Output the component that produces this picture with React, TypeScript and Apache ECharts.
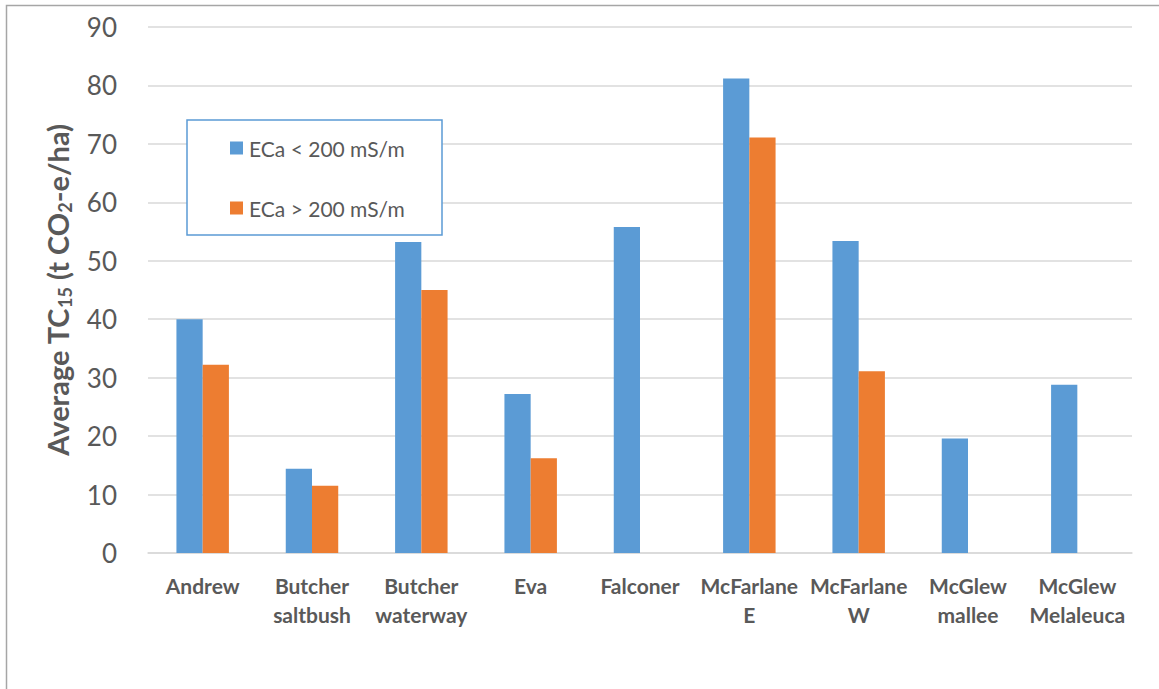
import React, { useEffect, useRef } from "react";
import * as echarts from "echarts";

const categories = [
  "Andrew",
  "Butcher\nsaltbush",
  "Butcher\nwaterway",
  "Eva",
  "Falconer",
  "McFarlane\nE",
  "McFarlane\nW",
  "McGlew\nmallee",
  "McGlew\nMelaleuca",
];
const seriesNames = ["ECa < 200 mS/m", "ECa > 200 mS/m"];
const lowEca = [40.0, 14.4, 53.2, 27.2, 55.8, 81.2, 53.4, 19.6, 28.8];
const highEca = [32.2, 11.5, 45.0, 16.2, null, 71.1, 31.1, null, null];
const yMin = 0;
const yMax = 90;
const yInterval = 10;

const TXT = "#595959";
const FONT = "Lato, 'Open Sans', sans-serif";

export default function App() {
  const ref = useRef<HTMLDivElement>(null);
  useEffect(() => {
    document.body.style.margin = "0";
    const chart = echarts.init(ref.current!, null, { renderer: "svg" });
    chart.setOption({
      animation: false,
      backgroundColor: "#ffffff",
      graphic: [
        {
          type: "rect",
          z: 0,
          silent: true,
          shape: { x: 6.5, y: 5.5, width: 1300, height: 900 },
          style: { fill: "none", stroke: "#a6a6a6", lineWidth: 1.5 },
        },
        {
          type: "rect",
          z: 5,
          silent: true,
          shape: { x: 187, y: 120, width: 255, height: 115 },
          style: { fill: "#ffffff", stroke: "#5b9bd5", lineWidth: 1.5 },
        },
      ],
      legend: {
        z: 10,
        left: 230,
        top: 137,
        orient: "vertical",
        itemWidth: 13,
        itemHeight: 13,
        itemGap: 38,
        icon: "rect",
        padding: 0,
        textStyle: { color: TXT, fontSize: 21, lineHeight: 22, fontFamily: FONT, padding: [0, 0, 0, 1] },
        data: seriesNames,
      },
      grid: { left: 148, right: 27, top: 27, bottom: 136, containLabel: false },
      xAxis: {
        type: "category",
        data: categories,
        axisLine: { lineStyle: { color: "#d9d9d9", width: 1.5 } },
        axisTick: { show: false },
        axisLabel: {
          interval: 0,
          color: TXT,
          fontSize: 21,
          fontWeight: "bold",
          fontFamily: FONT,
          lineHeight: 29,
          margin: 18,
        },
      },
      yAxis: {
        type: "value",
        min: yMin,
        max: yMax,
        interval: yInterval,
        axisLine: { show: false },
        axisTick: { show: false },
        splitLine: { lineStyle: { color: "#d9d9d9", width: 1.5 } },
        axisLabel: { color: TXT, fontSize: 26, fontFamily: FONT, margin: 31 },
        name: "{a|Average TC}{s|15}{a| (t CO}{s|2}{a|-e/ha)}",
        nameLocation: "middle",
        nameRotate: 90,
        nameGap: 74,
        nameTextStyle: {
          rich: {
            a: { fontSize: 29, fontWeight: "bold", color: TXT, fontFamily: FONT, lineHeight: 33 },
            s: {
              fontSize: 18,
              fontWeight: "bold",
              color: TXT,
              fontFamily: FONT,
              lineHeight: 18,
              verticalAlign: "bottom",
            },
          },
        },
      },
      series: [
        {
          name: seriesNames[0],
          type: "bar",
          data: lowEca,
          barGap: "0%",
          barCategoryGap: "52%",
          itemStyle: { color: "#5b9bd5" },
        },
        {
          name: seriesNames[1],
          type: "bar",
          data: highEca,
          barGap: "0%",
          barCategoryGap: "52%",
          itemStyle: { color: "#ed7d31" },
        },
      ],
    });
    return () => chart.dispose();
  }, []);
  return (
    <div
      ref={ref}
      style={{ position: "absolute", left: 0, top: 0, width: 1159, height: 689 }}
    />
  );
}
